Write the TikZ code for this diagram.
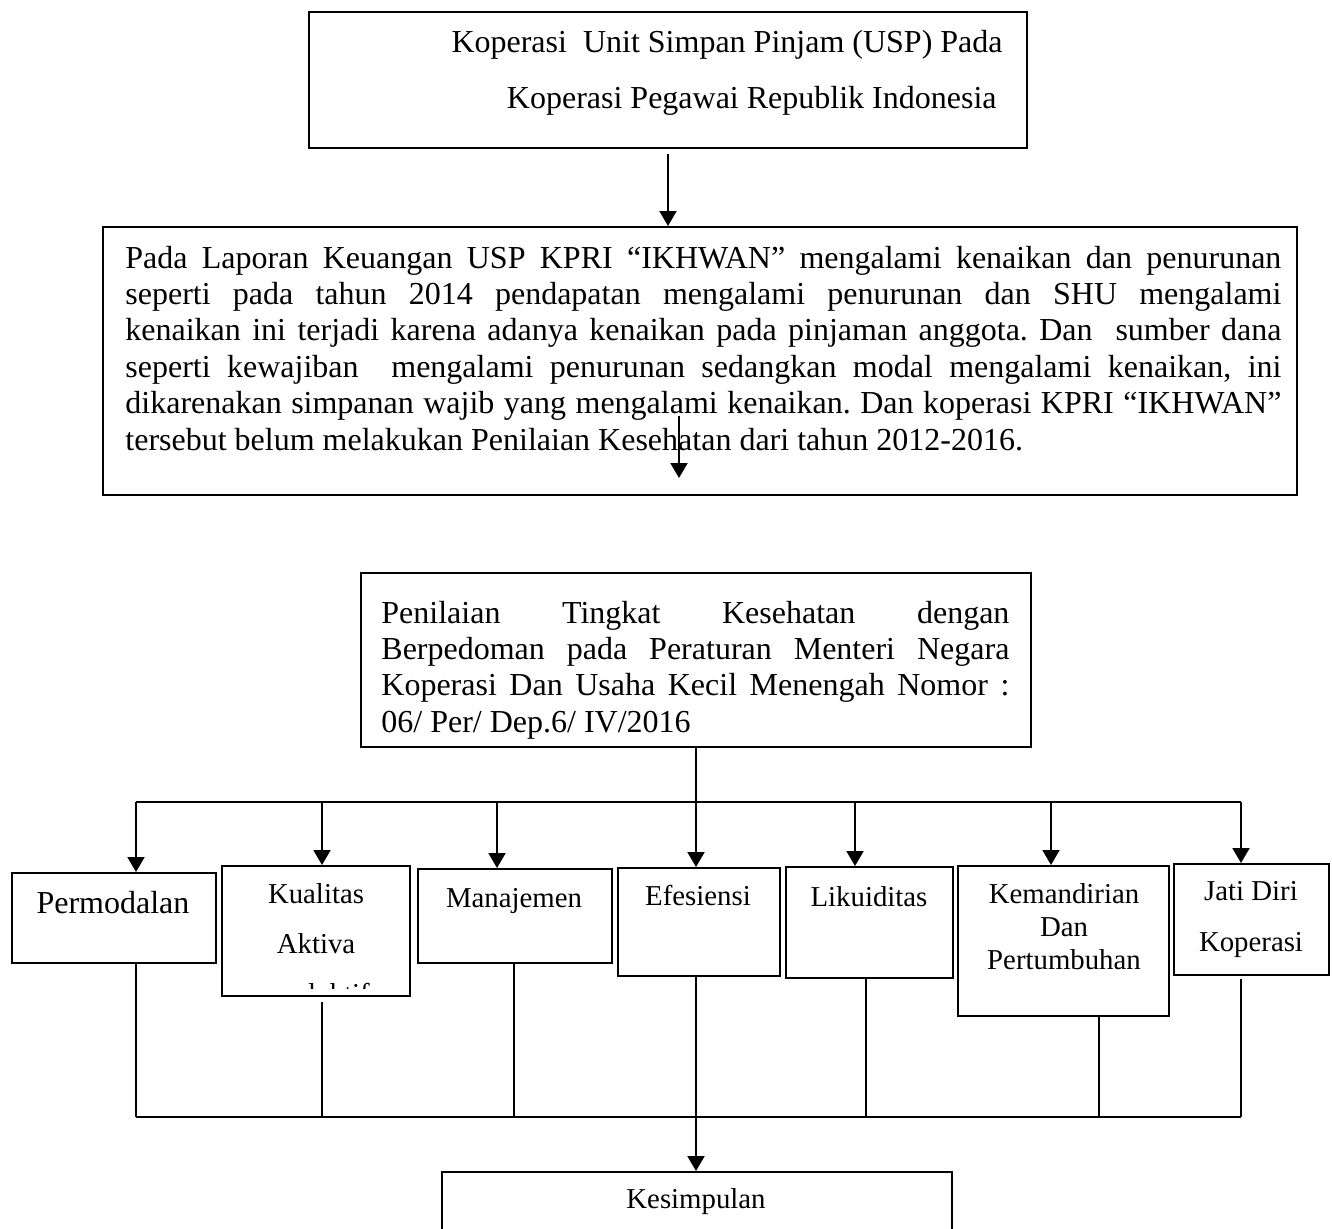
\documentclass[tikz,border=0pt]{standalone}
\usepackage{fontspec}
\setmainfont{Liberation Serif}
\usepackage{tikz}
\usetikzlibrary{arrows.meta,positioning,fit}
\frenchspacing
\newcommand{\bigtxt}{\fontsize{16}{18.2}\selectfont}
\newcommand{\smalltxt}{\fontsize{14.4}{16.5}\selectfont}
\tikzset{
  box/.style={draw,line width=1pt,inner sep=0pt},
  lbl/.style={inner sep=0pt},
  conn/.style={line width=1pt},
  arr/.style={conn,-{Triangle[length=7.5pt,width=8.5pt]}},
}

\begin{document}
\begin{tikzpicture}[x=0.5pt,y=-0.5pt]
  \useasboundingbox (0,0) rectangle (1332,1228);
  \clip (0,0) rectangle (1332,1228);
  % boxes
  \node[box,fit={(309,12) (1027,148)}] (usp) {};
  \node[lbl,font=\fontsize{16}{16}\selectfont,align=right,anchor=base east] (usptxt) at (1003,108)
    {Koperasi\ \ Unit Simpan Pinjam (USP) Pada\\[12pt]Koperasi Pegawai Republik Indonesia\hspace*{3pt}};
  \node[box,fit={(103,227) (1297,495)}] (lap) {};
  \node[lbl,font=\bigtxt,text width=578pt,align=justify,anchor=base west] (laptxt) at (125,268)
    {\tolerance=10000 \hyphenpenalty=10000
     Pada Laporan Keuangan USP KPRI “IKHWAN” mengalami kenaikan dan penurunan\linebreak
     seperti pada tahun 2014 pendapatan mengalami penurunan dan SHU mengalami\linebreak
     kenaikan ini terjadi karena adanya kenaikan pada pinjaman anggota. Dan\ \ sumber dana\linebreak
     seperti kewajiban\ \ mengalami penurunan sedangkan modal mengalami kenaikan, ini\linebreak
     dikarenakan simpanan wajib yang mengalami kenaikan. Dan koperasi KPRI “IKHWAN”\linebreak
     tersebut belum melakukan Penilaian Kesehatan dari tahun 2012-2016.};
  \node[box,fit={(361,573) (1031,747)}] (nilai) {};
  \node[lbl,font=\bigtxt,text width=314pt,align=justify,anchor=base west] (nilaitxt) at (381,623)
    {\tolerance=10000 \hyphenpenalty=10000
     Penilaian Tingkat Kesehatan dengan\linebreak
     Berpedoman pada Peraturan Menteri Negara\linebreak
     Koperasi Dan Usaha Kecil Menengah Nomor :\linebreak
     06/ Per/ Dep.6/ IV/2016};
  % aspek penilaian
  \node[box,fit={(12,873) (216,963)}] (perm) {};
  \node[lbl,font=\bigtxt,anchor=base] (permtxt) at (113,913) {Permodalan};
  \node[box,fit={(222,866) (410,996)}] (kual) {};
  \node[lbl,font=\fontsize{14.4}{25}\selectfont,align=center,anchor=base] (kualtxt) at (316,953) {Kualitas\\Aktiva};
  \begin{scope}
    \clip (222,866) rectangle (410,988);
    \node[lbl,font=\smalltxt,anchor=base] (produktif) at (316,1003) {produktif};
  \end{scope}
  \node[box,fit={(418,869) (612,963)}] (mana) {};
  \node[lbl,font=\smalltxt,anchor=base] (manatxt) at (514,907) {Manajemen};
  \node[box,fit={(618,868) (780,976)}] (efes) {};
  \node[lbl,font=\smalltxt,anchor=base] (efestxt) at (698,905) {Efesiensi};
  \node[box,fit={(786,867) (953,978)}] (likui) {};
  \node[lbl,font=\smalltxt,anchor=base] (likuitxt) at (869,906) {Likuiditas};
  \node[box,fit={(958,866) (1169,1016)}] (kemand) {};
  \node[lbl,font=\smalltxt,align=center,anchor=base] (kemandtxt) at (1064,969) {Kemandirian\\Dan\\Pertumbuhan};
  \node[box,fit={(1174,864) (1329,975)}] (jati) {};
  \node[lbl,font=\fontsize{14.4}{25.5}\selectfont,align=center,anchor=base] (jatitxt) at (1251,951) {Jati Diri\\Koperasi};
  \node[box,fit={(442,1172) (952,1260)}] (kes) {};
  \node[lbl,font=\smalltxt,anchor=base] (kestxt) at (696,1208) {Kesimpulan};
  % connectors
  \coordinate (barL) at (136,802);
  \coordinate (barR) at (1241,802);
  \coordinate (botL) at (136,1117);
  \coordinate (botR) at (1241,1117);
  \coordinate (midtop) at (679,416);
  \coordinate (midtip) at (679,478);
  \draw[arr,shorten <=2.5pt] (usp.south) -- (usp.south |- lap.north);
  \draw[arr] (midtop) -- (midtip);
  \draw[arr] (nilai.south) -- (nilai.south |- efes.north);
  \draw[conn] (barL) -- (barR);
  \foreach \x/\n in {136/perm, 322/kual, 497/mana, 855/likui, 1051/kemand, 1241/jati}
    \draw[arr] (\x,802) -- (\x,802 |- \n.north);
  \foreach \x/\n/\g in {136/perm/0, 322/kual/2.5, 514/mana/0, 866/likui/0, 1099/kemand/0, 1241/jati/1.5}
    \draw[conn,shorten <=\g pt] (\x,1117 |- \n.south) -- (\x,1117);
  \draw[conn] (botL) -- (botR);
  \draw[arr] (nilai.south |- efes.south) -- (nilai.south |- kes.north);
\end{tikzpicture}
\end{document}
